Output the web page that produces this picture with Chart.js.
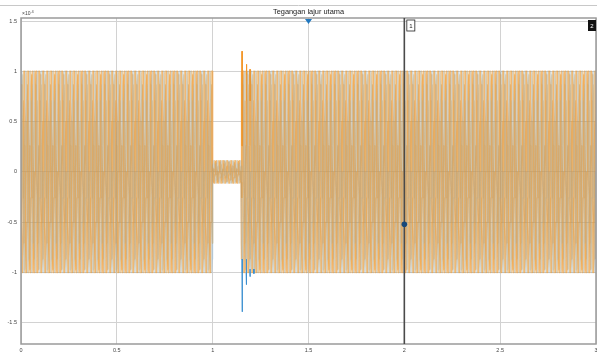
<!DOCTYPE html>
<html>
<head>
<meta charset="utf-8">
<script src="https://cdn.jsdelivr.net/npm/chart.js@4/dist/chart.umd.min.js"></script>
<style>
  html, body { margin: 0; padding: 0; background: #fff; }
  #c { display: block; }
</style>
</head>
<body>
<canvas id="c" width="597" height="357"></canvas>
<script>
// ---- chart text and axes ----
const chartTitle = 'Tegangan lajur utama';
const xTicks = [0, 0.5, 1, 1.5, 2, 2.5, 3];
const yTicks = [-1.5, -1, -0.5, 0, 0.5, 1, 1.5];   // ×10^4 V

// ---- waveform description ----
// one 50 Hz cycle, 24 samples, unit peak
const cycleShape = [0, 0.259, 0.5, 0.707, 0.866, 0.966, 1, 0.966, 0.866, 0.707, 0.5, 0.259,
                    0, -0.259, -0.5, -0.707, -0.866, -0.966, -1, -0.966, -0.866, -0.707, -0.5, -0.259];
const cycleLength = 0.02;                        // s
// operating segments: normal, fault, after clearing
const segmentStart = [0.00, 1.00, 1.15];
const segmentEnd   = [1.00, 1.15, 3.00];
const segmentPeak  = [1.00, 0.11, 1.00];         // ×10^4 V
// three phases, shifted by a third of a cycle
const phaseNames  = ['Va', 'Vb', 'Vc'];
const phaseShift  = [0, 8, 16];                  // samples
const phaseRGB    = [[59, 143, 208], [243, 150, 40], [232, 165, 70]];
const phaseAlpha  = [0.2, 0.6, 0.5];
// switching transient peaks right after the fault is cleared
const bSpikeTime  = [1.153, 1.177, 1.195];
const bSpikeValue = [1.20, 1.07, 1.02];
const aSpikeTime  = [1.154, 1.176, 1.195, 1.215];
const aSpikeValue = [-1.39, -1.12, -1.04, -1.01];

// ---- cursors ----
const triggerX = 1.5;
const cursorX = [2, 3];
const cursorPoint = [2, -0.52];

// build series from the segment table
const step = cycleLength / cycleShape.length;
const nSamples = Math.round(3 / step);
function peakAt(t) {
  for (let s = 0; s < segmentStart.length; s++) {
    if (t >= segmentStart[s] && t < segmentEnd[s]) return segmentPeak[s];
  }
  return segmentPeak[segmentPeak.length - 1];
}
function buildPhase(p) {
  const pts = [];
  for (let i = 0; i <= nSamples; i++) {
    const t = i * step;
    pts.push({ x: t, y: peakAt(t) * cycleShape[(i + phaseShift[p]) % cycleShape.length] });
  }
  return pts;
}
function applySpikes(pts, times, values) {
  times.forEach((t, k) => {
    const idx = Math.round(t / step);
    pts[idx] = { x: pts[idx].x, y: values[k] };
  });
}
const series = phaseNames.map((_, p) => buildPhase(p));
applySpikes(series[0], aSpikeTime, aSpikeValue);
applySpikes(series[1], bSpikeTime, bSpikeValue);

const rgba = (c, a) => `rgba(${c[0]},${c[1]},${c[2]},${a})`;
const FONT = '"Liberation Sans", Arial, sans-serif';
const beyondPeak = c => Math.abs(c.p0.parsed.y) > 1.005 || Math.abs(c.p1.parsed.y) > 1.005;

const scopeDecor = {
  id: 'scopeDecor',
  beforeDraw(chart) {
    const { ctx } = chart;
    ctx.save();
    ctx.strokeStyle = '#c8c8c8';
    ctx.lineWidth = 1;
    ctx.beginPath(); ctx.moveTo(0, 5.5); ctx.lineTo(597, 5.5); ctx.stroke();
    ctx.restore();
  },
  afterDraw(chart) {
    const { ctx, chartArea: a, scales: { x, y } } = chart;
    ctx.save();
    // frame
    ctx.strokeStyle = '#9a9a9a';
    ctx.lineWidth = 1.5;
    ctx.strokeRect(a.left, a.top, a.right - a.left, a.bottom - a.top);

    // title
    ctx.fillStyle = '#222';
    ctx.font = '7.4px ' + FONT;
    ctx.textAlign = 'center';
    ctx.textBaseline = 'middle';
    ctx.fillText(chartTitle, (a.left + a.right) / 2, 12);

    // exponent
    ctx.textAlign = 'left';
    ctx.font = '5px ' + FONT;
    ctx.fillStyle = '#444';
    ctx.fillText('\u00d710', 22, 14);
    ctx.font = '4px ' + FONT;
    ctx.fillText('4', 31.5, 11.5);

    // trigger marker
    const tx = x.getPixelForValue(triggerX);
    ctx.fillStyle = '#1f78c1';
    ctx.beginPath();
    ctx.moveTo(tx - 3.5, a.top + 1);
    ctx.lineTo(tx + 3.5, a.top + 1);
    ctx.lineTo(tx, a.top + 6);
    ctx.closePath();
    ctx.fill();

    // cursor 1
    const c1 = x.getPixelForValue(cursorX[0]);
    ctx.strokeStyle = '#4a4a4a';
    ctx.lineWidth = 1.6;
    ctx.beginPath(); ctx.moveTo(c1, a.top); ctx.lineTo(c1, a.bottom); ctx.stroke();
    ctx.fillStyle = '#fff';
    ctx.strokeStyle = '#222';
    ctx.lineWidth = 0.8;
    ctx.fillRect(c1 + 2.5, a.top + 2, 8, 11);
    ctx.strokeRect(c1 + 2.5, a.top + 2, 8, 11);
    ctx.fillStyle = '#222';
    ctx.font = '6px ' + FONT;
    ctx.textAlign = 'center';
    ctx.fillText('1', c1 + 6.5, a.top + 8);

    // cursor 2 (at the right edge)
    const c2 = x.getPixelForValue(cursorX[1]);
    ctx.fillStyle = '#111';
    ctx.fillRect(c2 - 8, a.top + 2, 8, 11);
    ctx.fillStyle = '#fff';
    ctx.fillText('2', c2 - 4, a.top + 8);

    // cursor intersection point
    ctx.fillStyle = '#16487a';
    ctx.beginPath();
    ctx.arc(x.getPixelForValue(cursorPoint[0]), y.getPixelForValue(cursorPoint[1]), 2.8, 0, Math.PI * 2);
    ctx.fill();
    ctx.restore();
  }
};

new Chart(document.getElementById('c'), {
  type: 'line',
  data: {
    datasets: series.map((pts, p) => ({
      label: phaseNames[p],
      data: pts,
      borderColor: rgba(phaseRGB[p], phaseAlpha[p]),
      borderWidth: 1.6,
      borderJoinStyle: 'round',
      pointRadius: 0,
      tension: 0,
      fill: false,
      // transient excursions beyond the normal peak stand out in full colour
      segment: {
        borderColor: c => beyondPeak(c) ? rgba(phaseRGB[p], 1) : undefined,
        borderWidth: c => beyondPeak(c) ? 1 : undefined
      }
    }))
  },
  options: {
    responsive: false,
    animation: false,
    parsing: false,
    normalized: true,
    spanGaps: true,
    events: [],
    layout: { padding: { top: 18, right: 1, left: 0, bottom: 0 } },
    plugins: { legend: { display: false }, tooltip: { enabled: false }, title: { display: false } },
    scales: {
      x: {
        type: 'linear',
        min: 0, max: 3,
        afterBuildTicks(s) { s.ticks = xTicks.map(v => ({ value: v })); },
        afterFit(s) { s.height = 13; s.paddingLeft = 0; s.paddingRight = 0; },
        ticks: {
          font: { size: 5.5, family: FONT },
          color: '#444',
          padding: 3,
          maxRotation: 0,
          autoSkip: false,
          callback: v => String(v)
        },
        grid: { color: '#d2d2d2', lineWidth: 1, drawTicks: false },
        border: { display: false }
      },
      y: {
        min: -1.71, max: 1.53,
        afterBuildTicks(s) { s.ticks = yTicks.map(v => ({ value: v })); },
        afterFit(s) { s.width = 21; s.paddingTop = 0; s.paddingBottom = 0; },
        ticks: {
          font: { size: 5.5, family: FONT },
          color: '#444',
          padding: 4,
          autoSkip: false,
          callback: v => String(v)
        },
        grid: { color: '#d2d2d2', lineWidth: 1, drawTicks: false },
        border: { display: false }
      }
    }
  },
  plugins: [scopeDecor]
});
</script>
</body>
</html>
